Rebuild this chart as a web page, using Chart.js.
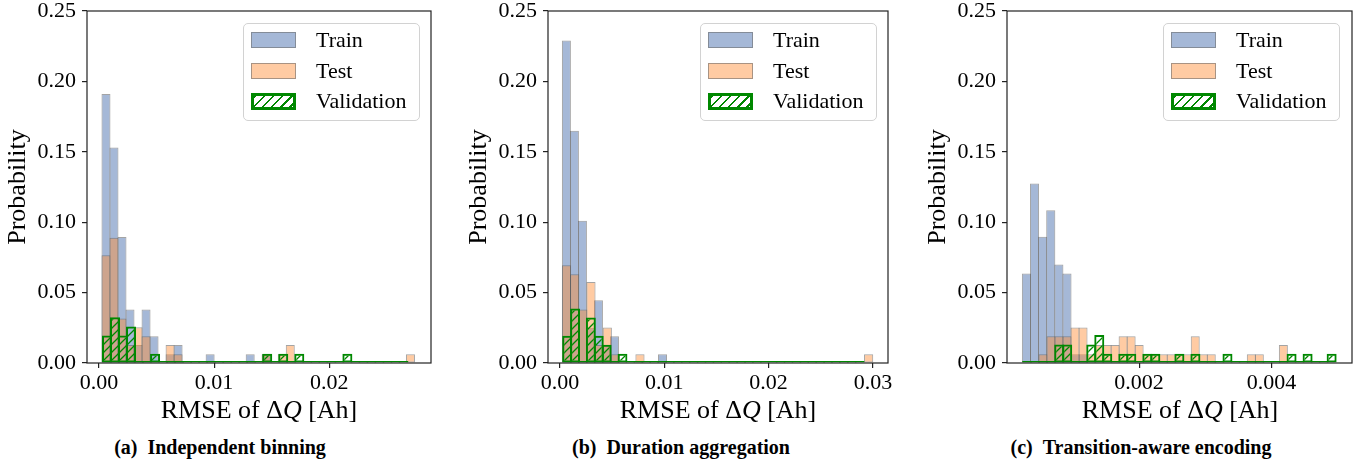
<!DOCTYPE html>
<html>
<head>
<meta charset="utf-8">
<script src="https://cdn.jsdelivr.net/npm/chart.js@4.4.1/dist/chart.umd.min.js"></script>
<style>
  body { margin: 0; background: #fff; width: 1362px; height: 460px; position: relative; overflow: hidden;
         font-family: "Liberation Serif", "DejaVu Serif", serif; color: #000; }
  .panel { position: absolute; top: 0; }
  .legend { position: absolute; top: 23px; width: 177px; height: 98px; box-sizing: border-box;
            border: 1.3px solid #d2d2d2; border-radius: 5px; background: rgba(255,255,255,0.85);
            font-size: 22px; padding-top: 1px; }
  .row { height: 30.5px; display: flex; align-items: center; }
  .sw { width: 45px; height: 16px; margin-left: 7px; margin-right: 20px; box-sizing: border-box; }
  .sw.train { background: rgba(76,114,176,0.5); border: 1.3px solid rgba(110,110,110,0.6); }
  .sw.test { background: rgba(255,140,50,0.45); border: 1.3px solid rgba(110,110,110,0.6); }
  .sw.val { height: 17px; border: 3px solid #008800;
            background: repeating-linear-gradient(135deg, #008800 0 2px, #fff 2px 6.4px); }
  .xt { position: absolute; top: 395px; font-size: 26px; line-height: 30px; transform: translateX(-50%); white-space: nowrap; }
  .cap { position: absolute; top: 437px; font-size: 20px; font-weight: bold; line-height: 20px;
         transform: translateX(-50%); white-space: nowrap; }
</style>
</head>
<body>
<div class="panel" style="left:0"><canvas id="chartA" width="445" height="400"></canvas></div>
<div class="panel" style="left:461px"><canvas id="chartB" width="441" height="400"></canvas></div>
<div class="panel" style="left:920px"><canvas id="chartC" width="442" height="400"></canvas></div>

<div class="legend" style="left:243px">
  <div class="row"><span class="sw train"></span>Train</div>
  <div class="row"><span class="sw test"></span>Test</div>
  <div class="row"><span class="sw val"></span>Validation</div>
</div>
<div class="legend" style="left:700px">
  <div class="row"><span class="sw train"></span>Train</div>
  <div class="row"><span class="sw test"></span>Test</div>
  <div class="row"><span class="sw val"></span>Validation</div>
</div>
<div class="legend" style="left:1163px">
  <div class="row"><span class="sw train"></span>Train</div>
  <div class="row"><span class="sw test"></span>Test</div>
  <div class="row"><span class="sw val"></span>Validation</div>
</div>

<div class="xt" style="left:259px">RMSE of Δ<i>Q</i> [Ah]</div>
<div class="xt" style="left:718px">RMSE of Δ<i>Q</i> [Ah]</div>
<div class="xt" style="left:1180px">RMSE of Δ<i>Q</i> [Ah]</div>

<div class="cap" style="left:220px">(a)&ensp;Independent binning</div>
<div class="cap" style="left:681px">(b)&ensp;Duration aggregation</div>
<div class="cap" style="left:1141px">(c)&ensp;Transition-aware encoding</div>

<script>
// (a) Independent binning
const aTrainStart = 0.00026, aTrainWidth = 0.000696;
const aTrain = [0.191, 0.153, 0.0895, 0.038, 0.0127, 0.038, 0.019, 0, 0.0063, 0.0127,
                0, 0, 0, 0.0063, 0, 0, 0, 0, 0.0063, 0, 0.0063];
const aTestStart = 0.00026, aTestWidth = 0.000696;
const aTest = [0.0766, 0.089, 0.0316, 0.0127, 0.0254, 0.019, 0, 0, 0.0127, 0.0063,
               0, 0, 0, 0, 0, 0, 0, 0, 0, 0,
               0.0063, 0, 0.0063, 0.0127, 0, 0, 0, 0, 0, 0,
               0, 0, 0, 0, 0, 0, 0, 0, 0.0063];
const aValStart = 0.000348, aValWidth = 0.000696;
const aVal = [0.0195, 0.0325, 0.0195, 0.026, 0, 0, 0.0065, 0, 0, 0,
              0, 0, 0, 0, 0, 0, 0, 0, 0, 0,
              0.0065, 0, 0.0065, 0, 0.0065, 0, 0, 0, 0, 0,
              0.0065, 0, 0, 0, 0, 0, 0, 0];
const aRange = [-0.00104, 0.02884];
const aTicks = [0, 0.01, 0.02];

// (b) Duration aggregation
const bTrainStart = 0.00023, bTrainWidth = 0.000768;
const bTrain = [0.229, 0.165, 0.101, 0.025, 0.0446, 0.0127, 0.019, 0, 0, 0, 0, 0, 0.0063];
const bTestStart = 0.00023, bTestWidth = 0.000783;
const bTest = [0.0694, 0.063, 0.038, 0.0575, 0.0127, 0.0252, 0.0063, 0, 0, 0.0063,
               0, 0, 0, 0, 0, 0, 0, 0, 0, 0,
               0, 0, 0, 0, 0, 0, 0, 0, 0, 0,
               0, 0, 0, 0, 0, 0, 0, 0.0063];
const bValStart = 0.000307, bValWidth = 0.000758;
const bVal = [0.0194, 0.0387, 0, 0.0323, 0.0194, 0.0129, 0, 0.0065, 0, 0,
              0, 0, 0, 0, 0, 0, 0, 0, 0, 0,
              0, 0, 0, 0, 0, 0, 0, 0, 0, 0,
              0, 0, 0, 0, 0, 0, 0, 0];
const bRange = [-0.00115, 0.03145];
const bTicks = [0, 0.01, 0.02, 0.03];

// (c) Transition-aware encoding
const cTrainStart = 0.000237, cTrainWidth = 0.0001225;
const cTrain = [0.0635, 0.1275, 0.0896, 0.1085, 0.070, 0.0635, 0.0063, 0.0063];
const cTestStart = 0.000488, cTestWidth = 0.000121;
const cTest = [0.0063, 0.019, 0.019, 0.019, 0.0253, 0.0253, 0.0063, 0.0127, 0.0127, 0.0127,
               0.019, 0.019, 0.0127, 0.0063, 0.0063, 0.0063, 0.0063, 0.0063, 0.0063, 0.019,
               0.0063, 0.0063, 0, 0, 0, 0, 0.0063, 0.0063, 0, 0, 0.0127];
const cValStart = 0.000249, cValWidth = 0.000121;
const cVal = [0, 0, 0, 0, 0.0132, 0.0132, 0, 0, 0.0132, 0.0198,
              0.0066, 0, 0.0066, 0.0066, 0, 0.0066, 0.0066, 0, 0, 0.0066,
              0, 0.0066, 0, 0, 0, 0.0066, 0, 0, 0, 0,
              0, 0, 0, 0.0066, 0, 0.0066, 0, 0, 0.0066];
const cRange = [0.000005, 0.005215];
const cTicks = [0.002, 0.004];

const yTicks = [0, 0.05, 0.1, 0.15, 0.2, 0.25];

const FONT = "'Liberation Serif', 'DejaVu Serif', serif";
const GREEN = "#008800";

function makeHatch(color) {
    const c = document.createElement("canvas");
    c.width = 8; c.height = 8;
    const g = c.getContext("2d");
    g.strokeStyle = color;
    g.lineWidth = 1.3;
    g.beginPath();
    g.moveTo(0, 8); g.lineTo(8, 0);
    g.moveTo(-2, 2); g.lineTo(2, -2);
    g.moveTo(6, 10); g.lineTo(10, 6);
    g.stroke();
    return g.createPattern(c, "repeat");
}
const hatch = makeHatch(GREEN);

// bin centres from the left edge and bin width
function histPoints(start, width, heights) {
    return heights.map((h, i) => ({ x: start + (i + 0.5) * width, y: h }));
}

// box round the plot, drawn over the bars like matplotlib spines
const frame = {
    id: "frame",
    afterDatasetsDraw(chart) {
        const { ctx, chartArea: a } = chart;
        ctx.save();
        ctx.strokeStyle = "#222";
        ctx.lineWidth = 1.2;
        ctx.strokeRect(a.left, a.top, a.right - a.left, a.bottom - a.top);
        ctx.restore();
    }
};

function xAxis(range, ticks, digits, show) {
    const axis = {
        type: "linear",
        display: show,
        min: range[0],
        max: range[1],
        offset: false,
        afterBuildTicks: s => { s.ticks = ticks.map(v => ({ value: v })); },
        grid: { offset: false, drawOnChartArea: false, tickLength: 5, tickColor: "#222", lineWidth: 1.2 },
        border: { display: false },
        ticks: {
            color: "#000", font: { family: FONT, size: 22 }, padding: 2,
            maxRotation: 0, autoSkip: false, callback: v => v.toFixed(digits)
        }
    };
    if (show) {
        axis.afterFit = s => { s.height = 37; s.paddingLeft = 0; s.paddingRight = 0; };
    }
    return axis;
}

function makeChart(id, p) {
    return new Chart(document.getElementById(id), {
        type: "bar",
        data: {
            datasets: [
                {
                    label: "Train",
                    data: histPoints(p.trainStart, p.trainWidth, p.train),
                    xAxisID: "x",
                    backgroundColor: "rgba(76,114,176,0.5)",
                    borderColor: "rgba(90,90,90,0.55)",
                    borderWidth: 1,
                    borderSkipped: false,
                    barPercentage: 1.125,
                    categoryPercentage: 1,
                    grouped: false,
                    order: 3
                },
                {
                    label: "Test",
                    data: histPoints(p.testStart, p.testWidth, p.test),
                    xAxisID: "x2",
                    backgroundColor: "rgba(255,140,50,0.45)",
                    borderColor: "rgba(90,90,90,0.55)",
                    borderWidth: 1,
                    borderSkipped: false,
                    barPercentage: 1.125,
                    categoryPercentage: 1,
                    grouped: false,
                    order: 2
                },
                {
                    label: "Validation",
                    data: histPoints(p.valStart, p.valWidth, p.val),
                    xAxisID: "x3",
                    backgroundColor: hatch,
                    borderColor: GREEN,
                    borderWidth: 2,
                    borderSkipped: false,
                    minBarLength: 2,
                    barPercentage: 1.25,
                    categoryPercentage: 1,
                    grouped: false,
                    order: 1
                }
            ]
        },
        options: {
            responsive: false,
            animation: false,
            devicePixelRatio: 1,
            layout: { padding: { top: 11, right: p.padRight, left: 0, bottom: 0 } },
            plugins: { legend: { display: false }, tooltip: { enabled: false } },
            scales: {
                x: xAxis(p.range, p.ticks, p.digits, true),
                x2: xAxis(p.range, p.ticks, p.digits, false),
                x3: xAxis(p.range, p.ticks, p.digits, false),
                y: {
                    min: 0,
                    max: 0.25,
                    afterBuildTicks: s => { s.ticks = yTicks.map(v => ({ value: v })); },
                    afterFit: s => { s.width = 87; s.paddingTop = 0; s.paddingBottom = 0; },
                    grid: { drawOnChartArea: false, tickLength: 5, tickColor: "#222", lineWidth: 1.2 },
                    border: { display: false },
                    ticks: { color: "#000", font: { family: FONT, size: 22 }, padding: 6, callback: v => v.toFixed(2) },
                    title: {
                        display: true, text: "Probability", color: "#000",
                        font: { family: FONT, size: 26 }, padding: { top: 3, bottom: 0 }
                    }
                }
            }
        },
        plugins: [frame]
    });
}

makeChart("chartA", {
    trainStart: aTrainStart, trainWidth: aTrainWidth, train: aTrain,
    testStart: aTestStart, testWidth: aTestWidth, test: aTest,
    valStart: aValStart, valWidth: aValWidth, val: aVal,
    range: aRange, ticks: aTicks, digits: 2, padRight: 14
});
makeChart("chartB", {
    trainStart: bTrainStart, trainWidth: bTrainWidth, train: bTrain,
    testStart: bTestStart, testWidth: bTestWidth, test: bTest,
    valStart: bValStart, valWidth: bValWidth, val: bVal,
    range: bRange, ticks: bTicks, digits: 2, padRight: 14
});
makeChart("chartC", {
    trainStart: cTrainStart, trainWidth: cTrainWidth, train: cTrain,
    testStart: cTestStart, testWidth: cTestWidth, test: cTest,
    valStart: cValStart, valWidth: cValWidth, val: cVal,
    range: cRange, ticks: cTicks, digits: 3, padRight: 10
});
</script>
</body>
</html>
